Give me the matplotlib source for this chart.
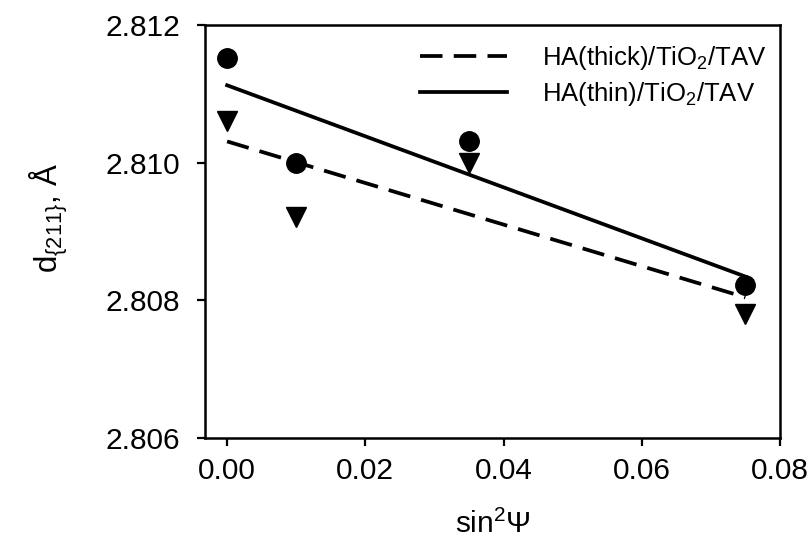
import numpy as np
import matplotlib
matplotlib.use('Agg')
import matplotlib.pyplot as plt

# sin^2(psi) positions
sin2psi = [0.0, 0.01, 0.035, 0.075]
# d-spacing, HA(thin) (circles) and HA(thick) (triangles)
d_thin = [2.81152, 2.81000, 2.81031, 2.80822]
d_thick = [2.81060, 2.80921, 2.81000, 2.80780]

label_thick = 'HA(thick)/TiO$_2$/TAV'
label_thin = 'HA(thin)/TiO$_2$/TAV'

plt.rcParams['font.family'] = ['Liberation Sans', 'DejaVu Sans']
plt.rcParams['mathtext.fontset'] = 'custom'
plt.rcParams['mathtext.rm'] = 'Liberation Sans'
plt.rcParams['mathtext.it'] = 'Liberation Sans'
plt.rcParams['mathtext.default'] = 'regular'

fig = plt.figure(figsize=(8.12, 5.53), dpi=100)
ax = fig.add_axes([205/812, 1-438/553, 575/812, 413/553])

x = np.asarray(sin2psi)
# linear fits
p_thin = np.polyfit(x, d_thin, 1)
p_thick = np.polyfit(x, d_thick, 1)
xf = np.array([x.min(), x.max()])

ax.plot(xf, np.polyval(p_thick, xf), color='k', lw=2.7, dashes=(6, 3),
        label=label_thick)
ax.plot(xf, np.polyval(p_thin, xf), color='k', lw=2.7, ls='-',
        label=label_thin)
ax.plot(x, d_thin, 'o', color='k', ms=14, zorder=3)
ax.plot(x, d_thick, 'v', color='k', ms=14, zorder=3)

ax.set_xlim(-0.0032, 0.08)
ax.set_ylim(2.806, 2.812)
ax.set_xticks([0.0, 0.02, 0.04, 0.06, 0.08])
ax.set_xticklabels(['0.00', '0.02', '0.04', '0.06', '0.08'])
ax.set_yticks([2.806, 2.808, 2.810, 2.812])
ax.set_yticklabels(['2.806', '2.808', '2.810', '2.812'])
ax.tick_params(direction='out', length=6, width=1.6, labelsize=21.5, pad=8)
ax.tick_params(axis='y', pad=12)
for s in ax.spines.values():
    s.set_linewidth(1.8)

ax.set_xlabel(r'sin$^2\Psi$', fontsize=21.5)
ax.xaxis.set_label_coords(0.5, -(510-438)/413)
ax.set_ylabel(r'd$_{\{211\}}$, Å', fontsize=22.5)
ax.yaxis.set_label_coords(-(205-70)/575, 1-(218-25)/413)

ax.legend(loc='upper left', bbox_to_anchor=((420-205)/575, 1-19/413),
          frameon=False, fontsize=18.5, handlelength=3.4, handletextpad=1.35,
          borderpad=0, borderaxespad=0, labelspacing=0.3)

plt.savefig('out.png', dpi=100)
